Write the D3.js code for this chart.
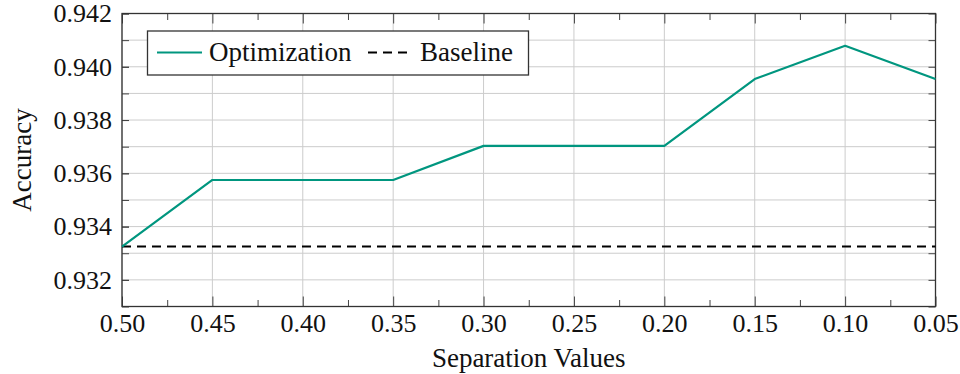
<!DOCTYPE html>
<html>
<head>
<meta charset="utf-8">
<script src="https://cdn.jsdelivr.net/npm/d3@7"></script>
</head>
<body style="margin:0; background:#fff">
<svg id="chart" width="960" height="374"></svg>
<script>
// separation values on the x axis (reversed)
var sepValues = [0.50, 0.45, 0.40, 0.35, 0.30, 0.25, 0.20, 0.15, 0.10, 0.05];
var optimization = [0.93325, 0.93575, 0.93575, 0.93575, 0.93703, 0.93703, 0.93703, 0.93954, 0.94079, 0.93954];
var baseline = [0.93325, 0.93325, 0.93325, 0.93325, 0.93325, 0.93325, 0.93325, 0.93325, 0.93325, 0.93325];
var yTickLabels = [0.932, 0.934, 0.936, 0.938, 0.940, 0.942];
var yMinorTicks = [0.931, 0.932, 0.933, 0.934, 0.935, 0.936, 0.937, 0.938, 0.939, 0.940, 0.941, 0.942];
var xMinorTicks = [0.475, 0.425, 0.375, 0.325, 0.275, 0.225, 0.175, 0.125, 0.075];

var serif = "Times New Roman";
var margin = {left: 122, right: 24.5, top: 13.5, bottom: 67.5};
var svg = d3.select("#chart"),
    width = +svg.attr("width"),
    height = +svg.attr("height");

var x0 = margin.left, x1 = width - margin.right,
    y0 = height - margin.bottom, y1 = margin.top;

var xScale = d3.scaleLinear().domain([0.50, 0.05]).range([x0, x1]);
var yScale = d3.scaleLinear().domain([0.931, 0.942]).range([y0, y1]);

var green = "#00967f";

// serif font on a text selection
function serifText(sel, size) {
    sel.style("font-family", "'" + serif + "'")
       .style("font-size", size + "px")
       .attr("fill", "#111");
}

//grid lines
var grid = svg.append("g").attr("stroke", "#cccccc").attr("stroke-width", 1);
grid.selectAll(".hg").data(yMinorTicks).enter().append("line")
    .attr("x1", x0).attr("x2", x1)
    .attr("y1", function(d) { return yScale(d); })
    .attr("y2", function(d) { return yScale(d); });
grid.selectAll(".vg").data(sepValues).enter().append("line")
    .attr("y1", y0).attr("y2", y1)
    .attr("x1", function(d) { return xScale(d); })
    .attr("x2", function(d) { return xScale(d); });

//axes with inward ticks, labels only bottom/left
var xAxis = d3.axisBottom(xScale).tickValues(sepValues)
    .tickFormat(d3.format(".2f")).tickSize(-10).tickPadding(7);
var gx = svg.append("g").attr("transform", "translate(0," + y0 + ")").call(xAxis);
gx.select(".domain").remove();
serifText(gx.selectAll("text"), 26);
gx.selectAll("line").attr("stroke", "#444");

var gxm = svg.append("g").attr("transform", "translate(0," + y0 + ")")
    .call(d3.axisBottom(xScale).tickValues(xMinorTicks).tickSize(-6.5).tickFormat(""));
gxm.select(".domain").remove();
gxm.selectAll("line").attr("stroke", "#444");

var gxt = svg.append("g").attr("transform", "translate(0," + y1 + ")")
    .call(d3.axisTop(xScale).tickValues(sepValues).tickSize(-10).tickFormat(""));
gxt.select(".domain").remove();
gxt.selectAll("line").attr("stroke", "#444");
var gxtm = svg.append("g").attr("transform", "translate(0," + y1 + ")")
    .call(d3.axisTop(xScale).tickValues(xMinorTicks).tickSize(-6.5).tickFormat(""));
gxtm.select(".domain").remove();
gxtm.selectAll("line").attr("stroke", "#444");

var yAxis = d3.axisLeft(yScale).tickValues(yTickLabels)
    .tickFormat(d3.format(".3f")).tickSize(-7).tickPadding(10);
var gy = svg.append("g").attr("transform", "translate(" + x0 + ",0)").call(yAxis);
gy.select(".domain").remove();
serifText(gy.selectAll("text"), 26);
gy.selectAll("line").attr("stroke", "#444");

var gym = svg.append("g").attr("transform", "translate(" + x0 + ",0)")
    .call(d3.axisLeft(yScale).tickValues(yMinorTicks).tickSize(-7).tickFormat(""));
gym.select(".domain").remove();
gym.selectAll("line").attr("stroke", "#444");
var gyr = svg.append("g").attr("transform", "translate(" + x1 + ",0)")
    .call(d3.axisRight(yScale).tickValues(yMinorTicks).tickSize(-7).tickFormat(""));
gyr.select(".domain").remove();
gyr.selectAll("line").attr("stroke", "#444");

//frame
svg.append("rect")
    .attr("x", x0).attr("y", y1)
    .attr("width", x1 - x0).attr("height", y0 - y1)
    .attr("fill", "none").attr("stroke", "#333").attr("stroke-width", 1.3);

//data lines
var line = d3.line()
    .x(function(d) { return xScale(d.x); })
    .y(function(d) { return yScale(d.y); });

svg.append("path")
    .datum(sepValues.map(function(v, i) { return {x: v, y: baseline[i]}; }))
    .attr("d", line)
    .attr("fill", "none").attr("stroke", "#000")
    .attr("stroke-width", 2).attr("stroke-dasharray", "9,6");

svg.append("path")
    .datum(sepValues.map(function(v, i) { return {x: v, y: optimization[i]}; }))
    .attr("d", line)
    .attr("fill", "none").attr("stroke", green)
    .attr("stroke-width", 2.2).attr("stroke-linejoin", "round");

//legend
var legend = svg.append("g");
legend.append("rect")
    .attr("x", 147.5).attr("y", 31)
    .attr("width", 381).attr("height", 44)
    .attr("fill", "#fff").attr("stroke", "#333").attr("stroke-width", 1.3);
legend.append("line")
    .attr("x1", 157).attr("x2", 202).attr("y1", 52.5).attr("y2", 52.5)
    .attr("stroke", green).attr("stroke-width", 2.2);
legend.append("text")
    .attr("x", 209).attr("y", 61)
    .call(serifText, 27)
    .text("Optimization");
legend.append("line")
    .attr("x1", 368).attr("x2", 407).attr("y1", 52.5).attr("y2", 52.5)
    .attr("stroke", "#000").attr("stroke-width", 2).attr("stroke-dasharray", "9,6");
legend.append("text")
    .attr("x", 420).attr("y", 61)
    .call(serifText, 27)
    .text("Baseline");

//axis titles
svg.append("text")
    .attr("x", (x0 + x1) / 2).attr("y", 367)
    .attr("text-anchor", "middle")
    .call(serifText, 27)
    .text("Separation Values");
svg.append("text")
    .attr("transform", "translate(31," + ((y0 + y1) / 2) + ") rotate(-90)")
    .attr("text-anchor", "middle")
    .call(serifText, 27)
    .text("Accuracy");
</script>
</body>
</html>
